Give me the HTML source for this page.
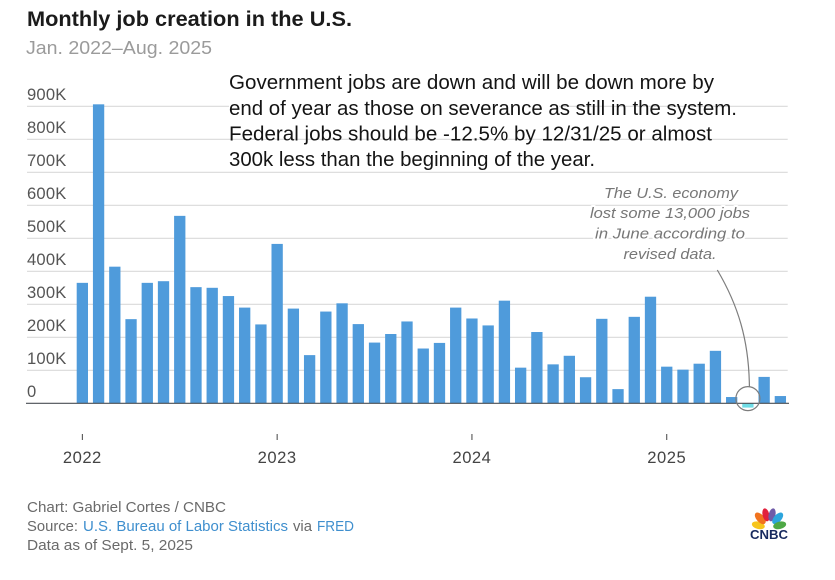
<!DOCTYPE html>
<html lang="en">
<head>
<meta charset="utf-8">
<title>Monthly job creation in the U.S.</title>
<style>
  html, body { margin: 0; padding: 0; background: #fff; }
  body { width: 835px; height: 580px; overflow: hidden; }
  svg { display: block; font-family: "Liberation Sans", sans-serif; }
  .ytick { font-size: 16.6px; fill: #555; letter-spacing: .2px; }
  .xtick { font-size: 16.6px; fill: #444; letter-spacing: .5px; text-anchor: middle; }
  .foot { font-size: 14.5px; fill: #6a6a6a; }
  .link { font-size: 14.5px; fill: #3f8fce; cursor: pointer; }
  .note { font-size: 20px; fill: #141414; }
  .anno { font-size: 15px; font-style: italic; fill: #777; text-anchor: middle; paint-order: stroke; stroke: #fff; stroke-width: 4px; stroke-linejoin: round; }
</style>
</head>
<body>
<svg id="chart" width="835" height="580" viewBox="0 0 835 580" xmlns="http://www.w3.org/2000/svg">
  <rect width="835" height="580" fill="#fff"/>
  <text x="27" y="26" font-size="21.5" font-weight="700" fill="#1b1b1b" textLength="325" lengthAdjust="spacingAndGlyphs">Monthly job creation in the U.S.</text>
  <text x="26" y="54" font-size="18" fill="#9b9b9b" textLength="186" lengthAdjust="spacingAndGlyphs">Jan. 2022–Aug. 2025</text>

  <g id="grid"></g>
  <g id="yaxis"></g>
  <rect x="229" y="100" width="330" height="12" fill="#fff"/>
  <g id="bars"></g>
  <g id="xaxis"></g>

  <g>
    <text class="note" x="229" y="89" textLength="485" lengthAdjust="spacingAndGlyphs">Government jobs are down and will be down more by</text>
    <text class="note" x="229" y="115" textLength="508" lengthAdjust="spacingAndGlyphs">end of year as those on severance as still in the system.</text>
    <text class="note" x="229" y="140.5" textLength="483" lengthAdjust="spacingAndGlyphs">Federal jobs should be -12.5% by 12/31/25 or almost</text>
    <text class="note" x="229" y="166" textLength="366" lengthAdjust="spacingAndGlyphs">300k less than the beginning of the year.</text>
  </g>

  <g>
    <text class="anno" x="671" y="198" textLength="134" lengthAdjust="spacingAndGlyphs">The U.S. economy</text>
    <text class="anno" x="670" y="218" textLength="160" lengthAdjust="spacingAndGlyphs">lost some 13,000 jobs</text>
    <text class="anno" x="670" y="238.5" textLength="150" lengthAdjust="spacingAndGlyphs">in June according to</text>
    <text class="anno" x="670" y="259" textLength="93" lengthAdjust="spacingAndGlyphs">revised data.</text>
  </g>
  <g id="callout"></g>

  <g>
    <text class="foot" x="27" y="512" textLength="199" lengthAdjust="spacingAndGlyphs">Chart: Gabriel Cortes / CNBC</text>
    <text class="foot" x="27" y="531" textLength="51" lengthAdjust="spacingAndGlyphs">Source:</text>
    <text class="link" x="83" y="531" textLength="205" lengthAdjust="spacingAndGlyphs">U.S. Bureau of Labor Statistics</text>
    <text class="foot" x="293" y="531" textLength="19" lengthAdjust="spacingAndGlyphs">via</text>
    <text class="link" x="317" y="531" textLength="37" lengthAdjust="spacingAndGlyphs">FRED</text>
    <text class="foot" x="27" y="550" textLength="166" lengthAdjust="spacingAndGlyphs">Data as of Sept. 5, 2025</text>
  </g>

  <g>
    <g transform="translate(769 528)">
      <ellipse cx="0" cy="-11" rx="3.7" ry="6.6" fill="#f7c51d" transform="rotate(-76)"/>
      <ellipse cx="0" cy="-13" rx="3.8" ry="7" fill="#f1731f" transform="rotate(-42)"/>
      <ellipse cx="0" cy="-13.5" rx="3.4" ry="6.6" fill="#e2203d" transform="rotate(-13)"/>
      <ellipse cx="0" cy="-13.5" rx="3.4" ry="6.6" fill="#6f5ba8" transform="rotate(13)"/>
      <ellipse cx="0" cy="-13" rx="3.8" ry="7" fill="#2da5dd" transform="rotate(42)"/>
      <ellipse cx="0" cy="-11" rx="3.7" ry="6.6" fill="#4ea845" transform="rotate(76)"/>
    </g>
    <text x="750" y="539" font-size="12.5" font-weight="700" fill="#17295e" textLength="38" lengthAdjust="spacingAndGlyphs">CNBC</text>
  </g>
</svg>

<script>
const months = ['Jan 22','Feb 22','Mar 22','Apr 22','May 22','Jun 22','Jul 22','Aug 22','Sep 22','Oct 22','Nov 22','Dec 22',
  'Jan 23','Feb 23','Mar 23','Apr 23','May 23','Jun 23','Jul 23','Aug 23','Sep 23','Oct 23','Nov 23','Dec 23',
  'Jan 24','Feb 24','Mar 24','Apr 24','May 24','Jun 24','Jul 24','Aug 24','Sep 24','Oct 24','Nov 24','Dec 24',
  'Jan 25','Feb 25','Mar 25','Apr 25','May 25','Jun 25','Jul 25','Aug 25'];
const jobsThousands = [365,906,414,255,365,370,568,352,350,325,290,239,
  483,287,146,278,303,240,184,210,248,166,183,290,
  257,236,311,108,216,118,144,79,256,43,262,323,
  111,102,120,159,19,-13,80,22];
const yTickValues = [0,100,200,300,400,500,600,700,800,900];
const yTickLabels = ['0','100K','200K','300K','400K','500K','600K','700K','800K','900K'];
const xTickMonths = ['Jan 22','Jan 23','Jan 24','Jan 25'];
const xTickLabels = ['2022','2023','2024','2025'];
const calloutMonth = 'Jun 25';

const NS = 'http://www.w3.org/2000/svg';
const plotLeft = 76.7, barStep = 16.233, barWidth = 11.3;
const zeroY = 403.3, pxPerK = 0.33;
const xBand = m => plotLeft + months.indexOf(m) * barStep;
const xCenter = m => xBand(m) + barWidth / 2;
const yScale = v => zeroY - v * pxPerK;

function make(tag, attrs, parent, text) {
  const el = document.createElementNS(NS, tag);
  for (const k in attrs) el.setAttribute(k, attrs[k]);
  if (text !== undefined) el.textContent = text;
  parent.appendChild(el);
  return el;
}

const gridG = document.getElementById('grid');
const yG = document.getElementById('yaxis');
yTickValues.forEach((v, i) => {
  if (v !== 0) {
    const ln = make('line', {x1: 27, x2: 787.7, y1: yScale(v), y2: yScale(v), stroke: '#d9d9d9', 'stroke-width': 1.2}, gridG);
    
    
  }
  const t = make('text', {class: 'ytick', x: 27, y: yScale(v) - 6.3}, yG, yTickLabels[i]);
  
  
});

const barsG = document.getElementById('bars');
jobsThousands.forEach((v, i) => {
  const m = months[i];
  const neg = v < 0;
  const r = make('rect', {
    x: xBand(m), width: barWidth,
    y: neg ? yScale(0) : yScale(v),
    height: Math.abs(v) * pxPerK,
    fill: neg ? '#6fdde6' : '#4f9bdb'
  }, barsG);
  
  
});

const xG = document.getElementById('xaxis');
const axis = make('line', {x1: 26, x2: 789, y1: zeroY, y2: zeroY, stroke: '#4a4f55', 'stroke-width': 1.1}, xG);


xTickMonths.forEach((m, i) => {
  const tk = make('line', {x1: xCenter(m), x2: xCenter(m), y1: 434, y2: 440, stroke: '#444', 'stroke-width': 1}, xG);
  
  
  const lb = make('text', {class: 'xtick', x: xCenter(m), y: 463}, xG, xTickLabels[i]);
  
  
});

const calloutG = document.getElementById('callout');
const cx = xCenter(calloutMonth);
const cy = yScale(jobsThousands[months.indexOf(calloutMonth)]) - 9;
const leader = make('path', {
  d: 'M717.3 270 C 738 305, ' + (cx + 1) + ' 340, ' + (cx + 1.5) + ' ' + (cy - 12),
  fill: 'none', stroke: '#7d7d7d', 'stroke-width': 1.2
}, calloutG);


const ring = make('circle', {cx: cx, cy: cy, r: 12, fill: 'none', stroke: '#7d7d7d', 'stroke-width': 1.2}, calloutG);


</script>
</body>
</html>
